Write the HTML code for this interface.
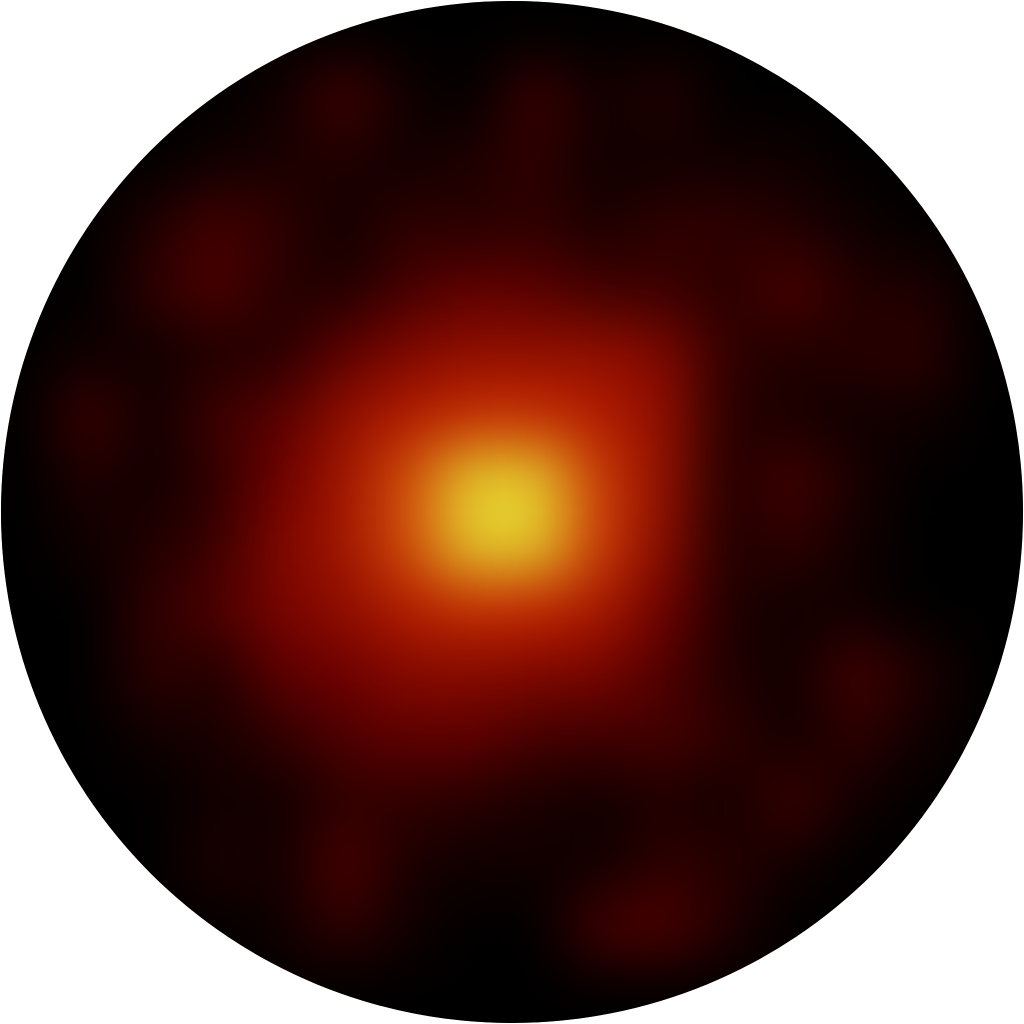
<!DOCTYPE html>
<html><head><meta charset="utf-8"><style>
html,body{margin:0;padding:0;background:#fff;width:1024px;height:1024px;overflow:hidden}
</style></head><body>
<svg id="chart" width="1024" height="1024" viewBox="0 0 1024 1024" xmlns="http://www.w3.org/2000/svg">
<defs>
<clipPath id="disc"><circle cx="512" cy="512" r="511"/></clipPath>
<filter id="blur" filterUnits="userSpaceOnUse" x="-150" y="-150" width="1324" height="1324" color-interpolation-filters="sRGB"><feGaussianBlur stdDeviation="30"/></filter>
</defs>
<circle cx="512" cy="512" r="511" fill="#000"/>
<g clip-path="url(#disc)"><g id="cells" filter="url(#blur)"></g></g>
</svg>
<script>
const gridRows = [
[0,0,0,0,0,0,0,0,0,0,0,0,0,0,0,0],
[0,0,0,0,.05,.22,.05,0,.2,.05,.12,0,0,0,0,0],
[0,0,0,.05,.08,.1,.05,.1,.15,.05,.05,.05,.05,0,0,0],
[0,0,.1,.22,.15,.05,.15,.12,.15,.08,.15,.15,.1,.05,0,0],
[0,0,.15,.25,.12,.1,.22,.3,.28,.2,.18,.12,.25,.1,.1,0],
[0,.05,.05,.1,.12,.3,.4,.45,.45,.45,.4,.15,.1,.12,.15,0],
[0,.2,.05,.2,.28,.45,.55,.62,.62,.55,.45,.12,.08,.05,.05,0],
[0,.1,.05,.15,.35,.5,.7,1,1,.65,.45,.1,.22,.08,0,0],
[0,.05,.1,.18,.4,.5,.7,1,1,.65,.42,.1,.15,.05,0,0],
[0,0,.15,.25,.38,.45,.55,.62,.6,.52,.35,.1,.05,.05,0,0],
[0,0,.15,.1,.3,.35,.42,.42,.4,.38,.25,.1,.05,.22,.1,0],
[0,0,.05,.08,.15,.25,.3,.3,.22,.2,.22,.15,.05,.15,.05,0],
[0,0,0,.05,.05,.15,.15,.12,.08,.05,.1,.05,.2,.05,0,0],
[0,0,0,.1,.05,.25,.08,.05,.05,.05,.15,.12,.05,0,0,0],
[0,0,0,0,.05,.15,.05,0,0,.22,.25,.1,0,0,0,0],
[0,0,0,0,0,0,0,0,0,0,0,0,0,0,0,0]
];
const nCols = 16, nRows = 16;
const x = c => c * 1024 / nCols - 8;
const y = r => r * 1024 / nRows;
const cw = 1024 / nCols, ch = 1024 / nRows;
const stops = [[0,[0,0,0]],[0.35,[110,0,0]],[0.6,[195,35,0]],[0.8,[225,120,20]],[1,[228,205,45]]];
function color(v){
  v = Math.max(0, Math.min(1, v));
  for (let i = 1; i < stops.length; i++) {
    if (v <= stops[i][0]) {
      const a = stops[i-1], b = stops[i], t = (v - a[0]) / (b[0] - a[0]);
      return 'rgb(' + a[1].map((q, k) => Math.round(q + (b[1][k] - q) * t)).join(',') + ')';
    }
  }
  return 'rgb(228,205,45)';
}
const g = document.getElementById('cells');
gridRows.forEach((row, r) => row.forEach((v, c) => {
  const rect = document.createElementNS('http://www.w3.org/2000/svg', 'rect');
  rect.setAttribute('x', x(c)); rect.setAttribute('y', y(r));
  rect.setAttribute('width', cw + 0.5); rect.setAttribute('height', ch + 0.5);
  rect.setAttribute('fill', color(v));
  
  
  g.appendChild(rect);
}));
</script>
</body></html>
